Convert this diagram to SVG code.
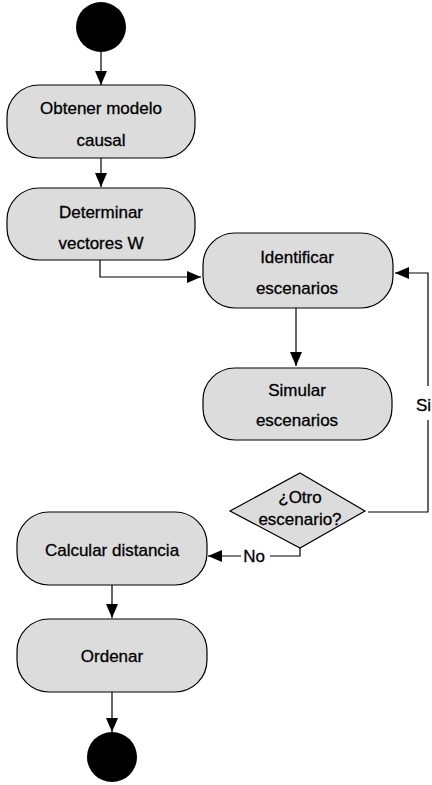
<svg xmlns="http://www.w3.org/2000/svg" width="432" height="785" viewBox="0 0 432 785">
<defs>
<marker id="ah" viewBox="0 0 14 12" refX="14" refY="6" markerWidth="14" markerHeight="12" markerUnits="userSpaceOnUse" orient="auto">
<path d="M0,0 L14,6 L0,12 Z" fill="#000"/>
</marker>
</defs>
<style>
.box{fill:#dcdcdc;stroke:#000;stroke-width:1.2}
.t{font-family:"Liberation Sans",Arial,sans-serif;font-size:17px;fill:#000;stroke:#000;stroke-width:0.3;text-anchor:middle;dominant-baseline:central}
.c{fill:none;stroke:#000;stroke-width:1.2}
</style>
<rect width="432" height="785" fill="#fff"/>
<g id="start"><circle cx="101" cy="27" r="25" fill="#000"/></g>
<g id="obtener"><rect class="box" x="7" y="85" width="188" height="73" rx="32"/>
<text class="t" x="101" y="108">Obtener modelo</text><text class="t" x="101" y="140">causal</text></g>
<g id="determinar"><rect class="box" x="7" y="188" width="188" height="72" rx="32"/>
<text class="t" x="101" y="212">Determinar</text><text class="t" x="101" y="243">vectores W</text></g>
<g id="identificar"><rect class="box" x="203" y="233" width="190" height="75" rx="32"/>
<text class="t" x="297" y="257">Identificar</text><text class="t" x="297" y="288">escenarios</text></g>
<g id="simular"><rect class="box" x="203" y="368" width="189" height="72" rx="32"/>
<text class="t" x="297" y="390">Simular</text><text class="t" x="297" y="420">escenarios</text></g>
<g id="decision"><polygon class="box" points="300,473 365,511 300,548 230,511"/>
<text class="t" x="300" y="497">¿Otro</text><text class="t" x="300" y="519">escenario?</text></g>
<g id="calcular"><rect class="box" x="17" y="512" width="190" height="73" rx="32"/>
<text class="t" x="112" y="550">Calcular distancia</text></g>
<g id="ordenar"><rect class="box" x="17" y="619" width="190" height="73" rx="32"/>
<text class="t" x="112" y="656">Ordenar</text></g>
<g id="end"><circle cx="112" cy="757" r="25" fill="#000"/></g>
<g id="connectors">
<path class="c" d="M101,52 V85" marker-end="url(#ah)"/>
<path class="c" d="M101,158 V187" marker-end="url(#ah)"/>
<path class="c" d="M100,260 V277 H201" marker-end="url(#ah)"/>
<path class="c" d="M296,308 V366" marker-end="url(#ah)"/>
<path class="c" d="M368,512 H428 V420"/>
<path class="c" d="M428,386 V273 H395" marker-end="url(#ah)"/>
<text class="t" x="431" y="405" style="text-anchor:end">Si</text>
<path class="c" d="M300,548 V556 H270"/>
<text class="t" x="254" y="556">No</text>
<path class="c" d="M241,556 H208" marker-end="url(#ah)"/>
<path class="c" d="M112,585 V618" marker-end="url(#ah)"/>
<path class="c" d="M112,692 V732" marker-end="url(#ah)"/>
</g>
</svg>
